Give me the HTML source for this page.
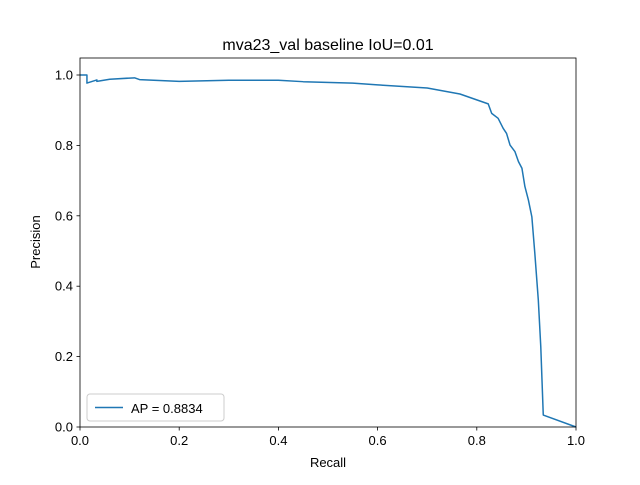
<!DOCTYPE html>
<html><head><meta charset="utf-8"><style>
body{margin:0;background:#fff}
svg text{font-family:"Liberation Sans","DejaVu Sans",sans-serif;fill:#000}
</style></head><body>
<svg width="640" height="480" xmlns="http://www.w3.org/2000/svg">
<rect width="640" height="480" fill="#fff"/>
<text x="328" y="50" font-size="16" text-anchor="middle">mva23_val baseline IoU=0.01</text>
<g id="axes"></g>
<polyline id="curve" fill="none" stroke="#1f77b4" stroke-width="1.5" stroke-linejoin="round"/>
<rect x="80" y="58" width="496" height="369" fill="none" stroke="#000" stroke-width="0.8"/>
<g>
<rect x="87" y="394" width="137" height="27" rx="3" fill="#fff" fill-opacity="0.8" stroke="#ccc"/>
<line x1="95" y1="407.5" x2="123" y2="407.5" stroke="#1f77b4" stroke-width="1.5"/>
<text x="131" y="413" font-size="13">AP = 0.8834</text>
</g>
<text x="328" y="467" font-size="13" text-anchor="middle">Recall</text>
<text x="40" y="242" font-size="13" text-anchor="middle" transform="rotate(-90 40 242)">Precision</text>
</svg>
<script>
const recall=[0,0.014,0.014,0.034,0.034,0.06,0.11,0.12,0.2,0.3,0.4,0.45,0.55,0.6,0.7,0.766,0.823,0.830,0.843,0.853,0.860,0.867,0.877,0.884,0.891,0.897,0.904,0.911,0.917,0.924,0.929,0.934,1.0];
const precision=[1.0,1.0,0.977,0.986,0.982,0.988,0.992,0.987,0.982,0.985,0.985,0.981,0.977,0.972,0.963,0.946,0.918,0.891,0.877,0.849,0.834,0.801,0.782,0.754,0.735,0.683,0.645,0.597,0.493,0.361,0.228,0.034,0.0];
const xTicks=[0,0.2,0.4,0.6,0.8,1.0];
const yTicks=[0,0.2,0.4,0.6,0.8,1.0];
const X=v=>80+v*496, Y=v=>427-v*352;
const ns="http://www.w3.org/2000/svg", g=document.getElementById('axes');
function mk(t,a){const e=document.createElementNS(ns,t);for(const k in a)e.setAttribute(k,a[k]);g.appendChild(e);return e;}
xTicks.forEach(t=>{
 const l=mk('line',{x1:X(t),x2:X(t),y1:427,y2:430.5,stroke:'#000','stroke-width':0.8});
 
 
 const s=mk('text',{x:X(t),y:445,'font-size':13,'text-anchor':'middle'});s.textContent=t.toFixed(1);
 
 
});
yTicks.forEach(t=>{
 const l=mk('line',{x1:76.5,x2:80,y1:Y(t),y2:Y(t),stroke:'#000','stroke-width':0.8});
 
 
 const s=mk('text',{x:73,y:Y(t)+4.5,'font-size':13,'text-anchor':'end'});s.textContent=t.toFixed(1);
 
 
});
document.getElementById('curve').setAttribute('points',recall.map((r,i)=>X(r)+','+Y(precision[i])).join(' '));
</script>
</body></html>
